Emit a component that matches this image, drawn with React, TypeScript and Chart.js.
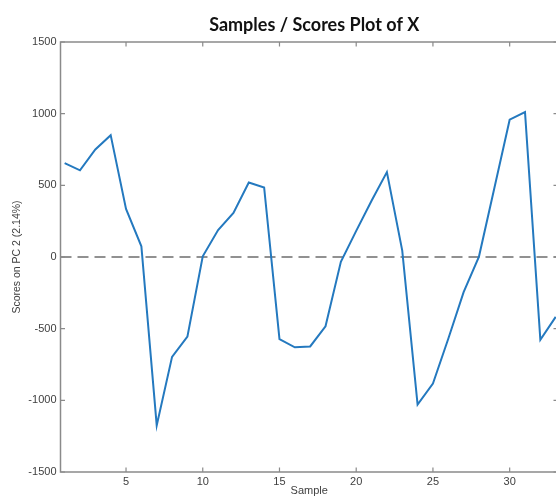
import React, { useEffect, useRef } from "react";
import { Chart, registerables } from "chart.js";

Chart.register(...registerables);

const samples = [1, 2, 3, 4, 5, 6, 7, 8, 9, 10, 11, 12, 13, 14, 15, 16, 17, 18, 19, 20, 21, 22, 23, 24, 25, 26, 27, 28, 29, 30, 31, 32, 33];
const scores = [655, 605, 750, 850, 335, 75, -1175, -697, -556, 5, 188, 308, 520, 485, -573, -630, -624, -483, -33, 182, 392, 592, 45, -1030, -883, -570, -245, 3, 480, 958, 1011, -577, -418];
const xTicks = [5, 10, 15, 20, 25, 30];
const yTicks = [-1500, -1000, -500, 0, 500, 1000, 1500];
const xRange = [0.73, 33.15];
const yRange = [-1500, 1500];
const titleText = "Samples / Scores Plot of X";
const xTitle = "Sample";
const yTitle = "Scores on PC 2 (2.14%)";

const AXIS_COLOR = "#8a8a8a";
const TEXT_COLOR = "#404040";

const boxPlugin = {
  id: "matlabBox",
  afterDatasetsDraw(chart: any) {
    const { ctx, chartArea, scales } = chart;
    const { left, right, top, bottom } = chartArea;
    ctx.save();
    ctx.strokeStyle = AXIS_COLOR;
    ctx.lineWidth = 1.5;
    ctx.strokeRect(left, top, right - left, bottom - top);
    ctx.lineWidth = 1.2;
    const tl = 4.5;
    ctx.beginPath();
    xTicks.forEach((v) => {
      const px = scales.x.getPixelForValue(v);
      ctx.moveTo(px, bottom);
      ctx.lineTo(px, bottom - tl);
      ctx.moveTo(px, top);
      ctx.lineTo(px, top + tl);
    });
    yTicks.forEach((v) => {
      const py = scales.y.getPixelForValue(v);
      ctx.moveTo(left, py);
      ctx.lineTo(left + tl, py);
      ctx.moveTo(right, py);
      ctx.lineTo(right - tl, py);
    });
    ctx.stroke();
    ctx.restore();
  },
  afterDraw(chart: any) {
    const { ctx, chartArea } = chart;
    ctx.save();
    ctx.fillStyle = "#111111";
    ctx.font = "bold 18px Lato";
    ctx.textAlign = "center";
    ctx.textBaseline = "alphabetic";
    ctx.fillText(titleText, (chartArea.left + chartArea.right) / 2 + 5, 31);
    ctx.restore();
  },
};

export default function App() {
  const ref = useRef<HTMLCanvasElement | null>(null);
  useEffect(() => {
    if (!ref.current) return;
    const chart = new Chart(ref.current, {
      type: "line",
      data: {
        datasets: [
          {
            data: samples.map((s, i) => ({ x: s, y: scores[i] })),
            borderColor: "#2479bf",
            borderWidth: 2,
            pointRadius: 0,
            tension: 0,
            fill: false,
            order: 1,
          },
          {
            data: [
              { x: xRange[0], y: 0 },
              { x: xRange[1], y: 0 },
            ],
            borderColor: "#6e6e6e",
            borderWidth: 1.5,
            borderDash: [11, 6],
            pointRadius: 0,
            fill: false,
            order: 2,
          },
        ],
      },
      options: {
        animation: false,
        responsive: false,
        maintainAspectRatio: false,
        devicePixelRatio: 1,
        layout: { padding: { top: 42, right: 4, left: 0, bottom: 0 } },
        plugins: {
          legend: { display: false },
          tooltip: { enabled: false },
          title: { display: false },
        },
        scales: {
          x: {
            type: "linear",
            min: xRange[0],
            max: xRange[1],
            afterBuildTicks: (scale: any) => {
              scale.ticks = xTicks.map((v) => ({ value: v }));
            },
            afterFit: (scale: any) => {
              scale.height = 26;
            },
            grid: { display: false, drawTicks: false },
            border: { display: false },
            ticks: {
              padding: 3,
              color: TEXT_COLOR,
              font: { family: "Liberation Sans", size: 11 },
              maxRotation: 0,
              autoSkip: false,
              callback: (v: any) => String(v),
            },
            title: {
              display: true,
              text: xTitle,
              color: TEXT_COLOR,
              font: { family: "Liberation Sans", size: 11 },
              padding: { top: 0, bottom: 0 },
            },
          },
          y: {
            type: "linear",
            min: yRange[0],
            max: yRange[1],
            afterBuildTicks: (scale: any) => {
              scale.ticks = yTicks.map((v) => ({ value: v }));
            },
            afterFit: (scale: any) => {
              scale.width = 60.5;
            },
            grid: { display: false, drawTicks: false },
            border: { display: false },
            ticks: {
              padding: 4,
              color: TEXT_COLOR,
              font: { family: "Liberation Sans", size: 11 },
              autoSkip: false,
              callback: (v: any) => String(v),
            },
            title: {
              display: true,
              text: yTitle,
              color: TEXT_COLOR,
              font: { family: "Liberation Sans", size: 10.5 },
              padding: { top: 11, bottom: 0 },
            },
          },
        },
      },
      plugins: [boxPlugin],
    });
    return () => chart.destroy();
  }, []);
  return (
    <div
      style={{
        position: "fixed",
        left: 0,
        top: 0,
        width: 556,
        height: 498,
        overflow: "hidden",
        background: "#ffffff",
      }}
    >
      <canvas ref={ref} width={562} height={498} style={{ display: "block", width: 562, height: 498 }} />
    </div>
  );
}
